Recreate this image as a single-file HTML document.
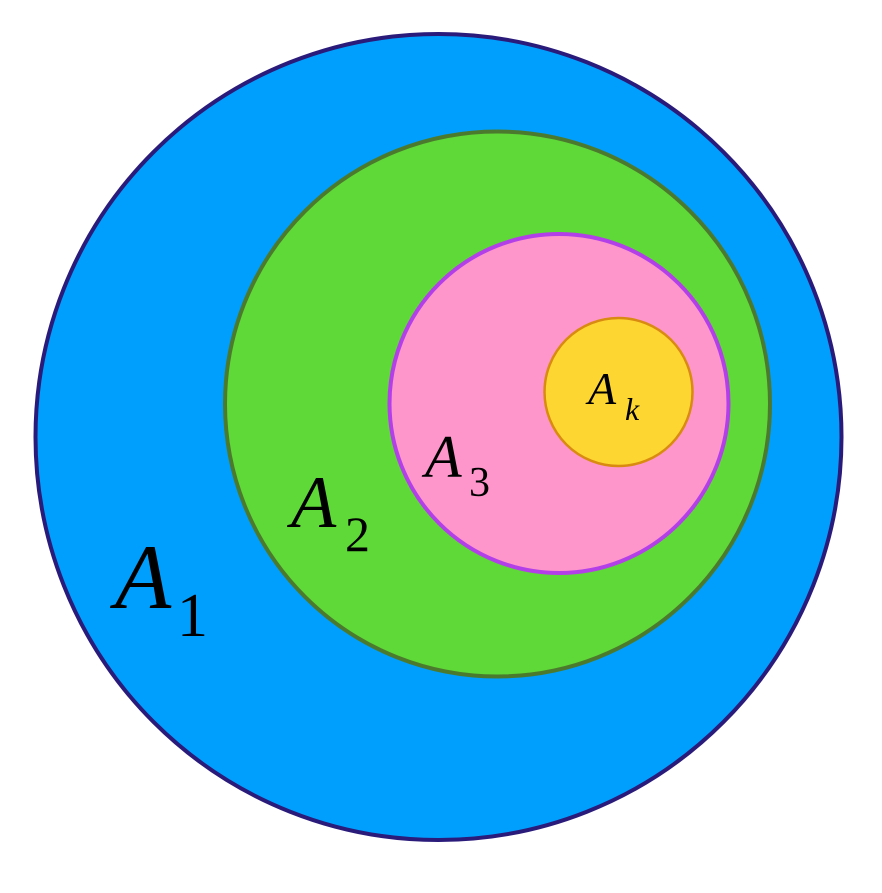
<!DOCTYPE html>
<html><head><style>html,body{margin:0;padding:0;background:#fff}svg{display:block}text{font-family:"Liberation Serif",serif}</style></head>
<body>
<svg width="882" height="893" viewBox="0 0 882 893" xmlns="http://www.w3.org/2000/svg">
<circle cx="438.5" cy="437" r="403" fill="#009ffd" stroke="#2a1a7a" stroke-width="4"/>
<circle cx="497.5" cy="404" r="272.5" fill="#5fd937" stroke="#4b7a2e" stroke-width="4"/>
<circle cx="559" cy="403.5" r="169.5" fill="#fe95cb" stroke="#b33fe8" stroke-width="4"/>
<circle cx="618.5" cy="392" r="74" fill="#fed631" stroke="#d98a10" stroke-width="2.5"/>
<g fill="#000">
<text x="115" y="608" font-size="92" font-style="italic">A</text>
<text x="177" y="636" font-size="62">1</text>
<text x="291" y="527" font-size="74" font-style="italic">A</text>
<text x="345" y="551" font-size="50">2</text>
<text x="425" y="477" font-size="60" font-style="italic">A</text>
<text x="469" y="496" font-size="42">3</text>
<text x="588" y="404" font-size="46" font-style="italic">A</text>
<text x="625" y="420" font-size="32" font-style="italic">k</text>
</g>
</svg>
</body></html>
